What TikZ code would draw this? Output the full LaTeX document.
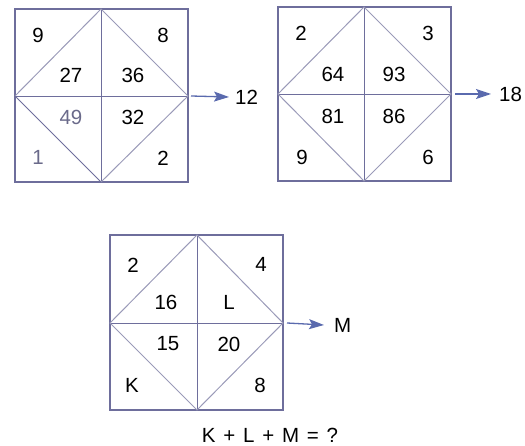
\documentclass[tikz,border=0pt]{standalone}
\usepackage{fontspec}
\setmainfont{Liberation Sans}
\usetikzlibrary{arrows.meta}
\definecolor{frame}{HTML}{6E6E9C}
\definecolor{diag}{HTML}{9A9AB8}
\definecolor{arr}{HTML}{5A6AAE}
\definecolor{grey}{HTML}{6A6A8A}
\tikzset{
  num/.style={font=\fontsize{20.5}{24}\selectfont, text=black, inner sep=0pt},
  framebox/.style={draw=frame, line width=1.1pt},
  midline/.style={draw=frame, line width=0.9pt},
  diagline/.style={draw=diag, line width=1pt},
  outarrow/.style={draw=arr, line width=1.3pt, -{Stealth[length=15pt,width=10pt,inset=3pt]}},
}
\newcommand{\gapsp}{\hspace{7.8pt}}
\begin{document}
\begin{tikzpicture}[x=1pt,y=-1pt]
\useasboundingbox (0,0) rectangle (525,446);
% ---------- square 1
\coordinate (a1) at (15,9);
\coordinate (a3) at (188,182);
\coordinate (aT) at (101,9);
\coordinate (aB) at (101,182);
\coordinate (aL) at (15,96);
\coordinate (aR) at (188,96);
\draw[framebox] (a1) rectangle (a3);
\draw[midline] (aT) -- (aB) (aL) -- (aR);
\draw[diagline] (aL) -- (aT) -- (aR) -- (aB);
\draw[midline] (aB) -- (aL);
\node[num] (n9) at (38,35) {9};
\node[num] (n8) at (163,35) {8};
\node[num] (n27) at (71,75) {27};
\node[num] (n36) at (133,75) {36};
\node[num, text=grey] (n49) at (71,117) {49};
\node[num] (n32) at (133,117) {32};
\node[num, text=grey] (n1) at (38,157) {1};
\node[num] (n2) at (163,158) {2};
\node[num, anchor=west] (r12) at (235,97) {12};
\draw[outarrow] (aR) ++(3,0) coordinate (aRs) -- ([xshift=-6pt]r12.west);
% ---------- square 2
\coordinate (b1) at (278,7);
\coordinate (b3) at (451,181);
\coordinate (bT) at (364,7);
\coordinate (bB) at (364,181);
\coordinate (bL) at (278,94);
\coordinate (bR) at (451,94);
\draw[framebox] (b1) rectangle (b3);
\draw[midline] (bT) -- (bB) (bL) -- (bR);
\draw[diagline] (bL) -- (bT) -- (bR) -- (bB) -- cycle;
\node[num] (m2) at (301,33) {2};
\node[num] (m3) at (428,33) {3};
\node[num] (m64) at (333,74) {64};
\node[num] (m93) at (394,74) {93};
\node[num] (m81) at (333,116) {81};
\node[num] (m86) at (394,116) {86};
\node[num] (m9) at (302,157) {9};
\node[num] (m6) at (428,157) {6};
\node[num, anchor=west] (r18) at (499,94) {18};
\draw[outarrow] (bR) ++(4,0) coordinate (bRs) -- ([xshift=-8pt]r18.west);
% ---------- square 3
\coordinate (c1) at (110,235);
\coordinate (c3) at (283,410);
\coordinate (cT) at (197,235);
\coordinate (cB) at (197,410);
\coordinate (cL) at (110,323);
\coordinate (cR) at (283,323);
\draw[framebox] (c1) rectangle (c3);
\draw[midline] (cT) -- (cB) (cL) -- (cR);
\draw[diagline] (cL) -- (cT) -- (cR) -- (cB) -- cycle;
\node[num] (k2) at (133,265) {2};
\node[num] (k4) at (261,264) {4};
\node[num] (k16) at (166,302) {16};
\node[num] (kL) at (229,302) {L};
\node[num] (k15) at (168,344) {15};
\node[num] (k20) at (229,344) {20};
\node[num] (kK) at (132,385) {K};
\node[num] (k8) at (260,385) {8};
\node[num, anchor=west] (rM) at (334,325) {M};
\draw[outarrow] (cR) ++(4,0) coordinate (cRs) -- ([xshift=-10pt]rM.west);
\node[num] (eq) at (270,435) {K\gapsp+\gapsp L\gapsp+\gapsp M\gapsp=\gapsp?};
\end{tikzpicture}
\end{document}
